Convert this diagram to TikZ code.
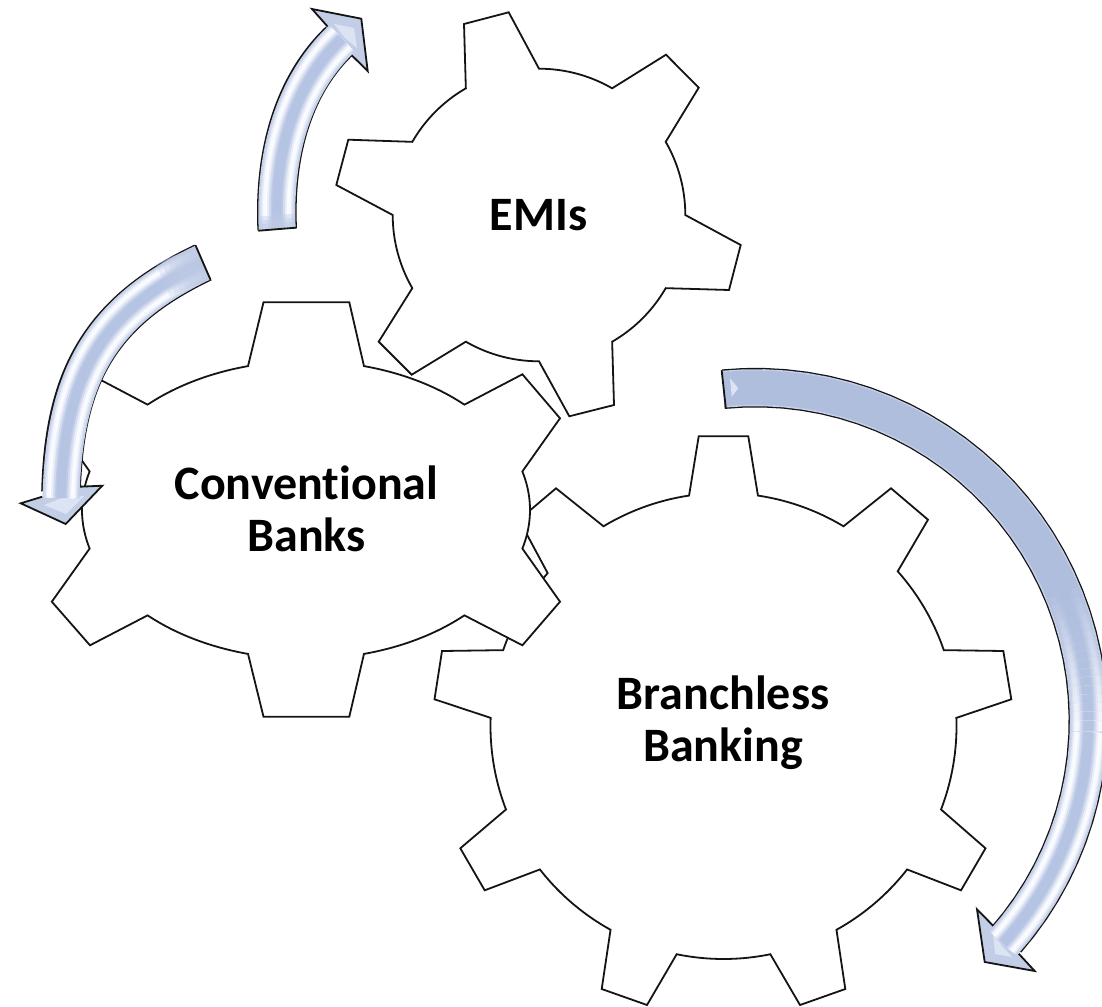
\documentclass[tikz,border=0pt]{standalone}
\usepackage{fontspec}
\setmainfont[Ligatures=NoCommon]{Carlito}
\definecolor{inkc}{HTML}{141414}
\definecolor{arrA}{HTML}{C5CFE8}
\definecolor{arrB}{HTML}{D3DBEE}
\definecolor{arrC}{HTML}{E6ECF7}
\definecolor{arrD}{HTML}{F7F9FE}
\definecolor{arrF}{HTML}{FBFCFF}
\definecolor{arrG}{HTML}{EAEFF8}
\definecolor{arrI}{HTML}{D2DBEF}
\definecolor{arrJ}{HTML}{BECAE6}
\definecolor{arrK}{HTML}{B6C4E3}
\definecolor{arrS}{HTML}{B0BEDE}
\definecolor{arrH}{HTML}{C2CDE6}
\definecolor{arrL}{HTML}{DCE4F4}
\tikzset{
  gearshape/.style={draw=inkc,fill=white,line width=1.8pt,line join=miter},
  arrowhead/.style={draw=inkc,line width=1.8pt,line join=miter},
  shaftedge/.style={inkc,line width=39.6pt},
  tailedge/.style={inkc,line width=1.8pt,line cap=round},
  gearlabel/.style={font=\fontsize{48}{52}\selectfont\bfseries,align=center,text=black,inner sep=0pt}
}
% elliptical arc on the path; parameter grows clockwise on screen
\newcommand\earc[6]{-- plot[domain=#5:#6,samples=24,variable=\q] ({#1+#3*cos(\q)},{#2+#4*sin(\q)})}
\newcommand\layerlist{37/arrA,34/arrB,31/arrC,28/arrD,24/arrF,20/arrG,16/arrI,12/arrJ,9/arrK}
% the banded cross-section of an arrow shaft
\newcommand\bands[1]{%
  \foreach \w/\c in \layerlist {\draw[line width=\w pt,color=\c] #1;}}
\newcommand\bigarc[2]{plot[domain=#1:#2,samples=40,variable=\q] ({755.4+333*cos(\q)},{720.6+333*sin(\q)})}
\begin{document}
\begin{tikzpicture}[x=1pt,y=-1pt]
\useasboundingbox (0,0) rectangle (1102,1006);
% EMIs gear
\draw[gearshape] (464,24) -- (508.7,12.3)
  \earc{539}{215}{146.3}{146.3}{-90}{-60} -- (666,54.7) -- (698.7,87.7)
  \earc{539}{215}{146.3}{146.3}{-30}{0} -- (740.7,245) -- (729,290)
  \earc{539}{215}{146.3}{146.3}{30}{60} -- (614,405) -- (569.3,416.3)
  \earc{539}{215}{146.3}{146.3}{90}{120} -- (411.7,374.7) -- (378.7,341.7)
  \earc{539}{215}{146.3}{146.3}{150}{180} -- (336.3,185) -- (348.3,139.7)
  \earc{539}{215}{146.3}{146.3}{210}{240} -- cycle;
% Branchless gear
\draw[gearshape] (698.7,436.3) -- (748.3,436.3)
  \earc{723.5}{726}{233}{233}{-81.5}{-59} -- (891,488.3) -- (928,519.7)
  \earc{723.5}{726}{233}{233}{-41.6}{-19} -- (1003.3,651) -- (1011.3,699.3)
  \earc{723.5}{726}{233}{233}{-2}{21} -- (985.5,848.3) -- (961,890.3)
  \earc{723.5}{726}{233}{233}{38}{61} -- (845.3,989) -- (800,1005)
  \earc{723.5}{726}{233}{233}{78.4}{101.6} -- (647,1005) -- (601.7,989)
  \earc{723.5}{726}{233}{233}{119}{142} -- (484.7,890.3) -- (460.3,848.3)
  \earc{723.5}{726}{233}{233}{159}{182} -- (434.5,699.3) -- (442,651)
  \earc{723.5}{726}{233}{233}{199}{221} -- (519,519.7) -- (556,488.3)
  \earc{723.5}{726}{233}{233}{239}{261.5} -- cycle;
% Conventional gear
\draw[gearshape] (263.5,302.3) -- (349.3,302.3)
  \earc{306}{510}{224}{149}{-75}{-45} -- (522.4,374.3) -- (560,418.3)
  \earc{306}{510}{224}{149}{-15}{15} -- (560,601.7) -- (522.4,645.3)
  \earc{306}{510}{224}{149}{45}{75} -- (349.3,716.7) -- (263.5,716.7)
  \earc{306}{510}{224}{149}{105}{135} -- (90,645.3) -- (51.8,601.7)
  \earc{306}{510}{224}{149}{165}{195} -- (52,418.3) -- (90,374.3)
  \earc{306}{510}{224}{149}{225}{255} -- cycle;
% left arrow
\draw[shaftedge] (203,262.5) .. controls (99,312) and (64,378) .. (61,492);
\fill[arrH] (20.7,503.3) -- (65.7,524) -- (102.3,485.7) -- (80,486.7) -- (42.3,496.7) -- cycle;
\fill[arrL] (44,505) -- (66,514) -- (84,496) -- (62,498) -- cycle;
\draw[arrowhead] (42.3,496.7) -- (20.7,503.3) -- (65.7,524) -- (102.3,485.7) -- (80,486.7);
\bands{(203,262.5) .. controls (99,312) and (64,378) .. (61,498)}
\foreach \L in {44,38,32,26,20,14,8}{\draw[line width=35pt,color=arrJ,opacity=.28] (203,262.5) -- ++(-.917*\L,.399*\L);}
\draw[tailedge] (195.7,245.7) -- (210.3,279.3);
% top arrow
\draw[shaftedge] (277.2,229.2) .. controls (274,160) and (290,88) .. (339.5,40.8);
\fill[arrH] (328.3,27.3) -- (312,9) -- (361.3,18.7) -- (367.7,71) -- (350.7,54.3) -- cycle;
\fill[arrL] (334,24) -- (354,28) -- (357,48) -- (345,38) -- cycle;
\draw[arrowhead] (328.3,27.3) -- (312,9) -- (361.3,18.7) -- (367.7,71) -- (350.7,54.3);
\bands{(277.2,229.2) .. controls (274,160) and (290,88) .. (342,38.5)}
\foreach \L in {14,10,6}{\draw[line width=35pt,color=arrJ,opacity=.4] (277.2,229.2) -- ++(-.08*\L,-\L);}
\draw[tailedge] (258.7,230.7) -- (295.7,227.7);
% right arrow
\draw[shaftedge] \bigarc{-95.5}{41.2};
\fill[arrH] (993.7,926.3) -- (977,909.3) -- (984.7,962) -- (1034.7,971) -- (1018.7,953.7) -- cycle;
\fill[arrL] (993,934) -- (995,954) -- (1012,957) -- (1002,946) -- cycle;
\draw[arrowhead] (993.7,926.3) -- (977,909.3) -- (984.7,962) -- (1034.7,971) -- (1018.7,953.7);
\draw[line width=37pt,color=arrA] \bigarc{-95.5}{42};
\draw[line width=34pt,color=arrS] \bigarc{-95.5}{-20};
\foreach \a [evaluate=\a as \m using {(\a+24)*4}] in {-24,-22.5,...,1}{%
  \foreach \w/\c in \layerlist {%
    \ifnum\w<37 \draw[line width=\w pt,color=\c!\m!arrS] \bigarc{\a}{\a+1.8};\fi}}
\foreach \w/\c in \layerlist {%
  \ifnum\w<37 \draw[line width=\w pt,color=\c] \bigarc{2}{42};\fi}
\fill[arrL] (730,378.3) -- (738.3,388.3) -- (731.7,396.7) -- cycle;
\draw[tailedge] (721.7,370.7) -- (725.7,407.3);
% labels
\node[gearlabel] (emi) at (538.5,215) {EMIs};
\node[gearlabel] (conv) at (306.5,508.5) {Conventional\\Banks};
\node[gearlabel] (branch) at (723,722.5) {Branchless\\Banking};
\end{tikzpicture}
\end{document}
